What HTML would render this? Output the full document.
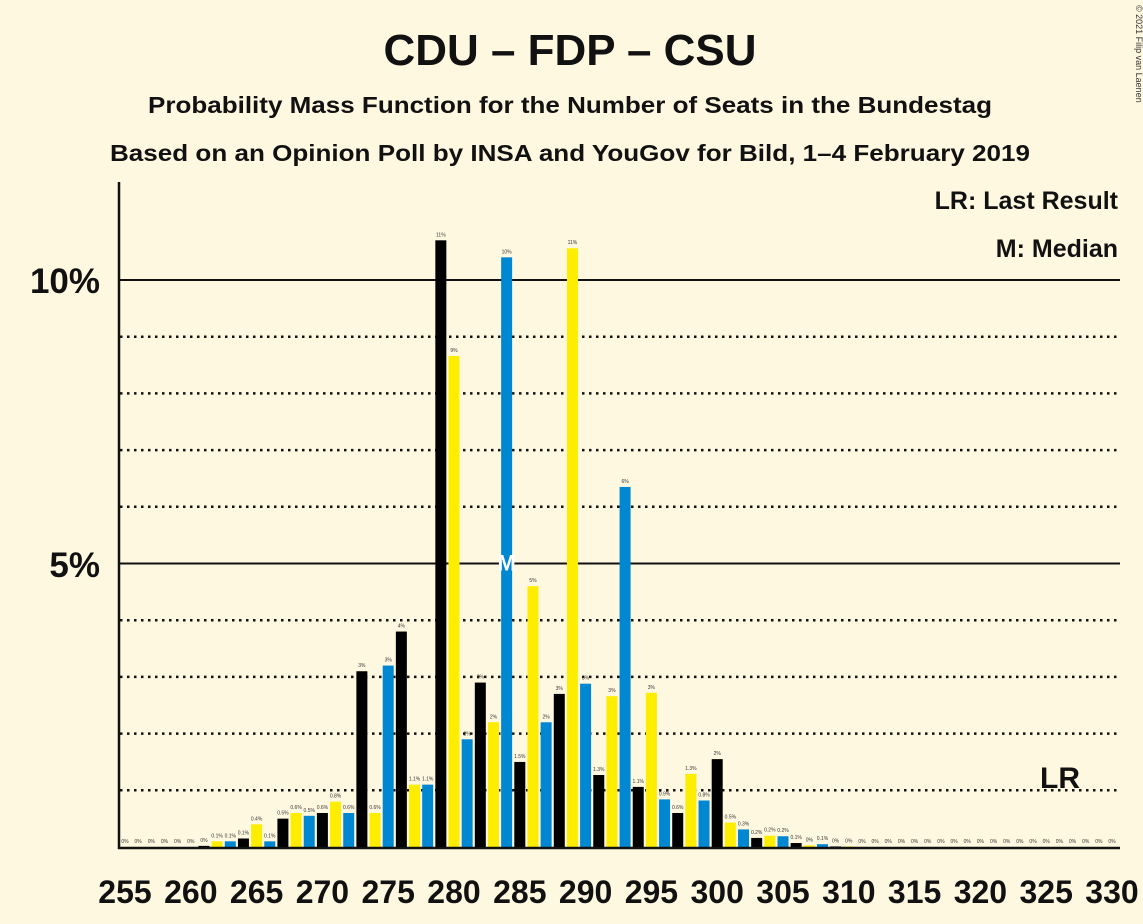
<!DOCTYPE html>
<html><head><meta charset="utf-8"><style>
body{margin:0;background:#fff8e1;}
svg{display:block;font-family:"Liberation Sans",sans-serif;}
</style></head><body>
<svg id="chart" width="1143" height="924" viewBox="0 0 1143 924">
<rect width="1143" height="924" fill="#fff8e1"/>
<text x="570" y="65" text-anchor="middle" font-size="44" font-weight="bold" fill="#111" textLength="373" lengthAdjust="spacingAndGlyphs">CDU – FDP – CSU</text>
<text x="570" y="113" text-anchor="middle" font-size="23" font-weight="bold" fill="#111" textLength="844" lengthAdjust="spacingAndGlyphs">Probability Mass Function for the Number of Seats in the Bundestag</text>
<text x="570" y="161" text-anchor="middle" font-size="23" font-weight="bold" fill="#111" textLength="920" lengthAdjust="spacingAndGlyphs">Based on an Opinion Poll by INSA and YouGov for Bild, 1–4 February 2019</text>
<text x="1136" y="5" font-size="9" fill="#333" transform="rotate(90 1136 5)">© 2021 Filip van Laenen</text>
<text x="1118" y="209" text-anchor="end" font-size="25" font-weight="bold" fill="#111">LR: Last Result</text>
<text x="1118" y="257" text-anchor="end" font-size="25" font-weight="bold" fill="#111">M: Median</text>
<g id="grid"></g><g id="bars"></g><g id="labels"></g><g id="xticks"></g>
<line x1="119" y1="182" x2="119" y2="849" stroke="#111" stroke-width="2.5"/>
<line x1="118" y1="848" x2="1120" y2="848" stroke="#111" stroke-width="2.5"/>
<text x="100" y="293" text-anchor="end" font-size="35" font-weight="bold" fill="#111">10%</text>
<text x="100" y="577" text-anchor="end" font-size="35" font-weight="bold" fill="#111">5%</text>
<text x="1060" y="788" text-anchor="middle" font-size="30" font-weight="bold" fill="#111">LR</text>
</svg>
<script>
const seats=[];for(let s=255;s<=330;s++)seats.push(s);
const values=[0,0,0,0,0,0,0.02,0.1,0.1,0.15,0.4,0.1,0.5,0.6,0.55,0.6,0.8,0.6,3.1,0.6,3.2,3.8,1.1,1.1,10.7,8.66,1.9,2.9,2.2,10.4,1.5,4.6,2.2,2.7,10.56,2.88,1.27,2.66,6.35,1.06,2.72,0.84,0.6,1.29,0.82,1.55,0.43,0.31,0.16,0.2,0.19,0.07,0.03,0.05,0.01,0.01,0,0,0,0,0,0,0,0,0,0,0,0,0,0,0,0,0,0,0,0];
const valueLabels=["0%","0%","0%","0%","0%","0%","0%","0.1%","0.1%","0.1%","0.4%","0.1%","0.5%","0.6%","0.5%","0.6%","0.8%","0.6%","3%","0.6%","3%","4%","1.1%","1.1%","11%","9%","2%","3%","2%","10%","1.5%","5%","2%","3%","11%","3%","1.3%","3%","6%","1.1%","3%","0.9%","0.6%","1.3%","0.8%","2%","0.5%","0.3%","0.2%","0.2%","0.2%","0.1%","0%","0.1%","0%","0%","0%","0%","0%","0%","0%","0%","0%","0%","0%","0%","0%","0%","0%","0%","0%","0%","0%","0%","0%","0%"];
const xTicks=[255,260,265,270,275,280,285,290,295,300,305,310,315,320,325,330];
const gridPct=[1,2,3,4,5,6,7,8,9,10];
const medianSeat=284;
const colors=["#000000","#ffed00","#0087d2"];
const ns="http://www.w3.org/2000/svg";
const X=s=>125+(s-255)*13.16;
const Y=v=>847-v*56.7;
const g=document.getElementById('grid'),b=document.getElementById('bars'),l=document.getElementById('labels'),xt=document.getElementById('xticks');
gridPct.forEach(p=>{const e=document.createElementNS(ns,'line');
e.setAttribute('x1',120);e.setAttribute('x2',1120);e.setAttribute('y1',Y(p));e.setAttribute('y2',Y(p));e.setAttribute('stroke','#111');
if(p%5===0){e.setAttribute('stroke-width',2);}else{e.setAttribute('stroke-width',2.5);e.setAttribute('stroke-dasharray','2.5 4.5');}


g.appendChild(e);});
seats.forEach((s,i)=>{const v=values[i];
if(v>0){const r=document.createElementNS(ns,'rect');
r.setAttribute('x',X(s)-5.5);r.setAttribute('width',11);r.setAttribute('y',Y(v));r.setAttribute('height',847-Y(v));r.setAttribute('fill',colors[s%3]);


b.appendChild(r);}
const t=document.createElementNS(ns,'text');t.setAttribute('x',X(s));t.setAttribute('y',Y(v)-4);t.setAttribute('text-anchor','middle');t.setAttribute('font-size',5);t.setAttribute('fill','#333');t.textContent=valueLabels[i];


l.appendChild(t);
if(s===medianSeat){const m=document.createElementNS(ns,'text');m.setAttribute('x',X(s));m.setAttribute('y',Y(5)+7);m.setAttribute('text-anchor','middle');m.setAttribute('font-size',22);m.setAttribute('font-weight','bold');m.setAttribute('fill','#fff');m.textContent='M';


l.appendChild(m);}
});
xTicks.forEach(s=>{const t=document.createElementNS(ns,'text');t.setAttribute('x',X(s));t.setAttribute('y',903);t.setAttribute('text-anchor','middle');t.setAttribute('font-size',32);t.setAttribute('font-weight','bold');t.setAttribute('fill','#111');t.textContent=s;


xt.appendChild(t);});
</script>
</body></html>
